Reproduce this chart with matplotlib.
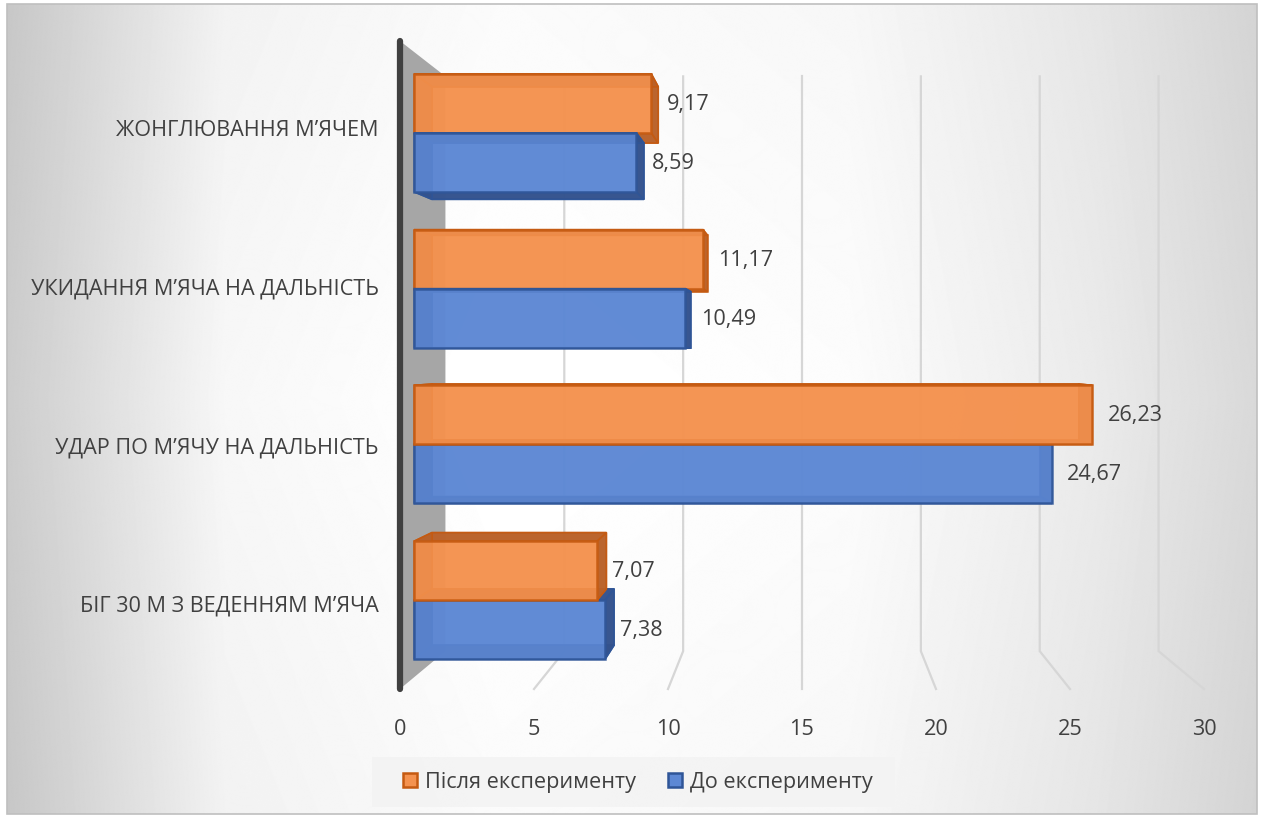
import numpy as np
import matplotlib.pyplot as plt
from matplotlib.patches import Polygon, Rectangle, Patch

# data (bottom to top, as in the chart)
categories = ['БІГ 30 М З ВЕДЕННЯМ М’ЯЧА', 'УДАР ПО М’ЯЧУ НА ДАЛЬНІСТЬ',
              'УКИДАННЯ М’ЯЧА НА ДАЛЬНІСТЬ', 'ЖОНГЛЮВАННЯ М’ЯЧЕМ']
after = [7.07, 26.23, 11.17, 9.17]
before = [7.38, 24.67, 10.49, 8.59]
series_names = ['Після експерименту', 'До експерименту']
x_ticks = [0, 5, 10, 15, 20, 25, 30]

plt.rcParams['font.family'] = ['Open Sans', 'DejaVu Sans']
TXT = '#404040'
FS = 15.6

W, H = 1263, 820
fig = plt.figure(figsize=(W / 100, H / 100), dpi=100)
fig.patch.set_facecolor('white')

# background with soft horizontal gradient
bg = fig.add_axes([0, 0, 1, 1], zorder=-2)
bg.set_xlim(0, W); bg.set_ylim(H, 0); bg.axis('off')
xs = np.arange(W)
row = np.interp(xs, [0, 220, 500, 850, 1100, W], [0.78, 0.95, 0.985, 0.97, 0.9, 0.83])
ys = np.arange(H)[:, None]
grad = row[None, :] + 0.02 * (1 - np.abs(ys - 400) / 400)
grad = np.clip(grad, 0, 1)
bg.imshow(grad, cmap='gray', vmin=0, vmax=1, extent=(7, 1257, 815, 5), aspect='auto')
bg.add_patch(Rectangle((7, 5), 1250, 810, fill=False, ec='#bfbfbf', lw=1.2))
# legend background panel
bg.add_patch(Rectangle((372, 758), 523, 50, fc='#f3f3f3', ec='none', alpha=0.85))

# perspective planes: same data limits, scaled about a vanishing point
VP = (802, 355)


def plane(s, top, bottom, z=1):
    l = VP[0] + (400 - VP[0]) * s
    r = VP[0] + (1204 - VP[0]) * s
    t = VP[1] + (top - VP[1]) * s
    b = VP[1] + (bottom - VP[1]) * s
    ax = fig.add_axes([l / W, 1 - b / H, (r - l) / W, (b - t) / H], zorder=z)
    ax.set_xlim(0, 30)
    ax.set_ylim(-0.5, 3.5)
    ax.patch.set_alpha(0)
    for sp in ax.spines.values():
        sp.set_visible(False)
    return ax


overlay = fig.add_axes([0, 0, 1, 1], zorder=0)
overlay.set_xlim(0, W); overlay.set_ylim(0, H); overlay.axis('off')
overlay.patch.set_alpha(0)

floor = plane(1.0, 42, 690, z=1)
labels = plane(0.98, 42, 690, z=1)
wall = plane(0.887, 42, 690, z=1)
front = plane(0.9646, 45, 691, z=1)
back = plane(0.92, 45, 691, z=1)
wall.axis('off'); front.axis('off'); back.axis('off')


def pt(ax, x, y):
    return ax.transData.transform((x, y))


# gridlines: back wall then down to the floor edge
for k in x_ticks[1:]:
    p1 = pt(wall, k, 3.5)
    p2 = pt(wall, k, -0.5)
    p3 = pt(floor, k, -0.5)
    overlay.plot([p1[0], p2[0], p3[0]], [p1[1], p2[1], p3[1]], color='#d6d6d6', lw=1.6,
                 solid_joinstyle='miter', zorder=0.5)

# side wall
wall_pts = [pt(floor, 0, 3.5), pt(floor, 0, -0.5), pt(wall, 0, -0.5), pt(wall, 0, 3.5)]
overlay.add_patch(Polygon(wall_pts, closed=True, fc='#a6a6a6', ec='none', zorder=0.6))
a0 = pt(floor, 0, 3.5); a1 = pt(floor, 0, -0.5)
overlay.plot([a0[0], a1[0]], [a0[1], a1[1]], color='#404040', lw=4.5,
             solid_capstyle='round', zorder=0.7)

# bars
bh = 0.379
styles = {
    0: dict(fc='#F4924F', ec='#C55A11', side='#B8612A'),
    1: dict(fc='#5D88D4', ec='#2F5597', side='#34528C'),
}
bars = []
for i in range(len(categories)):
    bars.append((after[i], i + bh / 2, 0))
    bars.append((before[i], i - bh / 2, 1))

vp_disp = H - VP[1]
bars.sort(key=lambda b: -abs(pt(front, 0, b[1])[1] - vp_disp))

zb = 1.0
for v, yc, s in bars:
    st = styles[s]
    y0, y1 = yc - bh / 2, yc + bh / 2
    F = [pt(front, 0, y0), pt(front, v, y0), pt(front, v, y1), pt(front, 0, y1)]
    B = [pt(back, 0, y0), pt(back, v, y0), pt(back, v, y1), pt(back, 0, y1)]
    overlay.add_patch(Polygon(B, closed=True, fc=st['fc'], ec=st['ec'], lw=1.2,
                              alpha=0.75, zorder=zb))
    for a, b in [(0, 1), (1, 2), (2, 3), (3, 0)]:
        overlay.add_patch(Polygon([F[a], F[b], B[b], B[a]], closed=True,
                                  fc=st['side'], ec=st['ec'], lw=1.2, alpha=0.95, zorder=zb))
    overlay.add_patch(Polygon(F, closed=True, fc=st['fc'], ec=st['ec'], lw=1.8,
                              alpha=0.88, zorder=zb))
    zb += 0.01
    front.annotate(f'{v:.2f}'.replace('.', ','), (v, yc), xytext=(11, 0),
                   textcoords='offset points', ha='left', va='center',
                   fontsize=FS, color=TXT)

# axis labels
floor.set_xticks(x_ticks)
floor.set_xticklabels([str(t) for t in x_ticks], fontsize=FS, color=TXT)
floor.set_yticks([])
floor.tick_params(axis='x', length=0, pad=21)
labels.set_xticks([])
labels.set_yticks(range(len(categories)))
labels.set_yticklabels(categories, fontsize=FS, color=TXT)
labels.tick_params(axis='y', length=0, pad=21)

# legend
handles = [Patch(fc=styles[0]['fc'], ec=styles[0]['ec'], lw=1.8),
           Patch(fc=styles[1]['fc'], ec=styles[1]['ec'], lw=1.8)]
leg = fig.legend(handles, series_names, loc='center', bbox_to_anchor=(638 / W, 1 - 783 / H),
                 ncol=2, fontsize=FS, frameon=False, handlelength=0.65,
                 handleheight=0.65, handletextpad=0.37, columnspacing=1.5, borderpad=0.3,
                 borderaxespad=0)
for t in leg.get_texts():
    t.set_color(TXT)

fig.savefig('out.png', dpi=100)
